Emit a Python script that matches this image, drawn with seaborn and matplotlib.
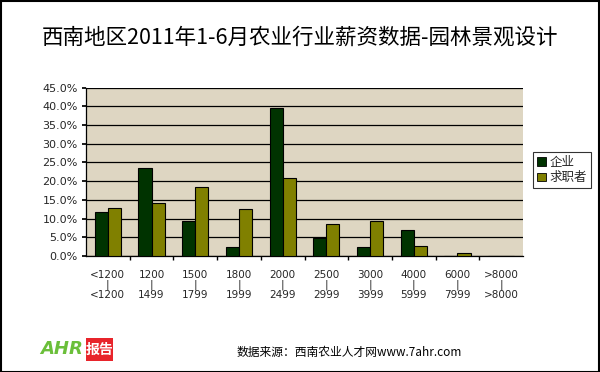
import matplotlib
matplotlib.use("Agg")
import matplotlib.pyplot as plt
import seaborn as sns
import pandas as pd
from matplotlib.patches import Rectangle, Patch

categories = ["<1200\n|\n<1200", "1200\n|\n1499", "1500\n|\n1799", "1800\n|\n1999",
              "2000\n|\n2499", "2500\n|\n2999", "3000\n|\n3999", "4000\n|\n5999",
              "6000\n|\n7999", ">8000\n|\n>8000"]
series_names = ["企业", "求职者"]
enterprise = [11.8, 23.5, 9.4, 2.3, 39.6, 4.7, 2.3, 6.9, 0.0, 0.0]
jobseeker = [12.8, 14.1, 18.4, 12.5, 20.8, 8.5, 9.3, 2.6, 0.7, 0.0]
yticks = [0, 5, 10, 15, 20, 25, 30, 35, 40, 45]
colors = ["#003300", "#808000"]

sns.set_theme(style="white")
plt.rcParams['font.family'] = ['Noto Sans CJK SC', 'DejaVu Sans']

df = pd.DataFrame({
    "cat": categories * 2,
    "val": enterprise + jobseeker,
    "series": [series_names[0]] * len(categories) + [series_names[1]] * len(categories),
})

fig = plt.figure(figsize=(6, 3.72), dpi=100)
fig.patch.set_facecolor("white")
ax = fig.add_axes([86 / 600, 1 - 256 / 372, 437 / 600, (256 - 87.5) / 372])
ax.set_facecolor("#DED6C2")

sns.barplot(data=df, x="cat", y="val", hue="series", order=categories,
            hue_order=series_names, palette=colors, saturation=1, width=0.6, gap=0,
            edgecolor="black", linewidth=0.8, ax=ax, legend=False, zorder=3)

ax.set_ylim(0, 45)
ax.set_xlim(-0.5, len(categories) - 0.5)
ax.set_yticks(yticks)
ax.set_yticklabels([f"{v:.1f}%" for v in yticks], fontsize=8, family="DejaVu Sans")
ax.yaxis.grid(True, color="black", linewidth=0.9, zorder=1)
ax.set_axisbelow(True)
ax.set_xlabel("")
ax.set_ylabel("")
ax.set_xticks(range(len(categories)))
ax.set_xticklabels(categories, fontsize=7.5, family="DejaVu Sans", linespacing=0.95)
ax.tick_params(axis="x", length=0, pad=10)
ax.set_xticks([i + 0.5 for i in range(len(categories) - 1)], minor=True)
ax.tick_params(axis="x", which="minor", length=3, direction="out", color="black", bottom=True)
ax.tick_params(axis="y", length=3, direction="out", color="black", left=True, pad=3)
for s in ["top", "right"]:
    ax.spines[s].set_visible(False)
ax.spines["left"].set_color("black")
ax.spines["bottom"].set_color("black")
ax.spines["left"].set_linewidth(0.9)
ax.spines["bottom"].set_linewidth(0.9)

# legend
handles = [Patch(facecolor=c, edgecolor="black", linewidth=0.6) for c in colors]
leg = fig.legend(handles, series_names, loc="upper left",
                 bbox_to_anchor=(533 / 600, 1 - 152 / 372), frameon=True,
                 fontsize=9, handlelength=0.7, handleheight=0.7, handletextpad=0.3,
                 borderpad=0.3, labelspacing=0.2, fancybox=False, borderaxespad=0)
leg.get_frame().set_edgecolor("black")
leg.get_frame().set_linewidth(0.8)

# title
fig.text(0.5, 1 - 38 / 372, "西南地区2011年1-6月农业行业薪资数据-园林景观设计",
         ha="center", va="center", fontsize=15.5, color="black")

# source
fig.text(349 / 600, 1 - 352 / 372, "数据来源：西南农业人才网www.7ahr.com",
         ha="center", va="center", fontsize=8.5, color="black")

# logo
fig.text(40 / 600, 1 - 349 / 372, "AHR", ha="left", va="center", fontsize=13,
         color="#6BBF3A", fontstyle="italic", fontweight="bold", family="DejaVu Sans")
fig.patches.append(Rectangle((86 / 600, 1 - 361 / 372), 27 / 600, 23 / 372,
                             transform=fig.transFigure, facecolor="#E8242B",
                             edgecolor="none"))
fig.text(99.5 / 600, 1 - 349.5 / 372, "报告", ha="center", va="center", fontsize=10,
         color="white", fontweight="bold")

# outer border
fig.patches.append(Rectangle((0.5 / 600, 0.5 / 372), 598.5 / 600, 370.5 / 372,
                             transform=fig.transFigure, facecolor="none",
                             edgecolor="black", linewidth=1.5))

fig.savefig("out.png", dpi=100)
